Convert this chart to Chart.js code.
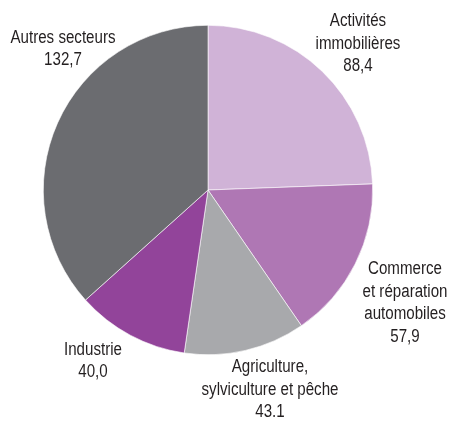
<!DOCTYPE html>
<html>
<head>
<meta charset="utf-8">
<script src="https://cdn.jsdelivr.net/npm/chart.js@4/dist/chart.umd.min.js"></script>
<style>
  html, body { margin: 0; padding: 0; background: #fff; }
  canvas { display: block; }
</style>
</head>
<body>
<canvas id="pie" width="449" height="423"></canvas>
<script>
const SECTORS = [
  ['Activités', 'immobilières'],
  ['Commerce', 'et réparation', 'automobiles'],
  ['Agriculture,', 'sylviculture et pêche'],
  ['Industrie'],
  ['Autres secteurs'],
];
const VALUES = [88.4, 57.9, 43.1, 40.0, 132.7];
const VALUE_TEXT = ['88,4', '57,9', '43.1', '40,0', '132,7'];
const COLORS = ['#d0b3d7', '#af77b4', '#a8a9ac', '#92449a', '#6b6c70'];

// label centres, relative to the pie centre
const LABEL_OFFSETS = [
  [150, -146], [197, 113], [62, 200], [-115, 171], [-145, -141],
];

// condensed look: regular sans squeezed horizontally
const FONT = '18px "Liberation Sans", Arial, sans-serif';
const SQUEEZE = 0.84;
const LINE_H = 22.5;

const sliceLabels = {
  id: 'sliceLabels',
  afterDraw(chart) {
    const ctx = chart.ctx;
    const arc = chart.getDatasetMeta(0).data[0];
    const cx = arc.x, cy = arc.y;
    ctx.save();
    ctx.font = FONT;
    ctx.fillStyle = '#231f20';
    ctx.textAlign = 'center';
    ctx.textBaseline = 'middle';
    SECTORS.forEach((lines, i) => {
      const all = [...lines, VALUE_TEXT[i]];
      const [dx, dy] = LABEL_OFFSETS[i];
      const top = cy + dy - (all.length - 1) * LINE_H / 2;
      all.forEach((t, j) => {
        ctx.save();
        ctx.translate(cx + dx, top + j * LINE_H);
        ctx.scale(SQUEEZE, 1);
        ctx.fillText(t, 0, 0);
        ctx.restore();
      });
    });
    ctx.restore();
  },
};

new Chart(document.getElementById('pie'), {
  type: 'pie',
  data: {
    labels: SECTORS.map(s => s.join(' ')),
    datasets: [{
      data: VALUES,
      backgroundColor: COLORS,
      borderColor: '#ffffff',
      borderWidth: 0.6,
    }],
  },
  options: {
    responsive: false,
    animation: false,
    layout: { padding: { left: 43, top: 25, right: 76, bottom: 68 } },
    plugins: {
      legend: { display: false },
      tooltip: { enabled: false },
    },
  },
  plugins: [sliceLabels],
});
</script>
</body>
</html>
